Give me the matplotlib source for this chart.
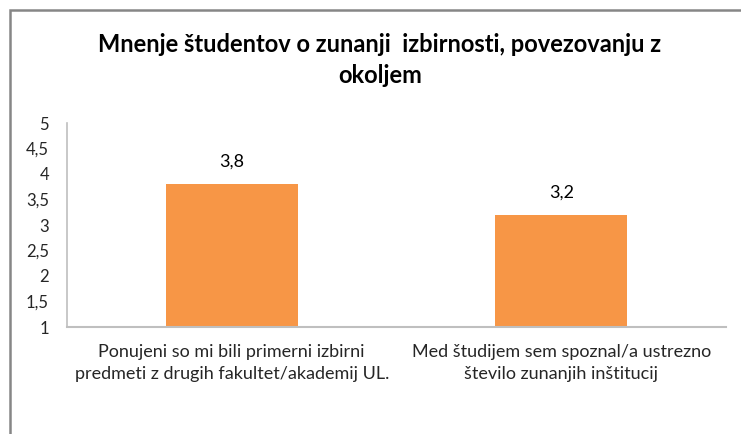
import matplotlib.pyplot as plt
from matplotlib.patches import Rectangle

# Podatki
kategorije = ["Ponujeni so mi bili primerni izbirni\npredmeti z drugih fakultet/akademij UL.",
              "Med študijem sem spoznal/a ustrezno\nštevilo zunanjih inštitucij"]
vrednosti = [3.8, 3.2]
oznake_y = ["1", "1,5", "2", "2,5", "3", "3,5", "4", "4,5", "5"]
naslov = "Mnenje študentov o zunanji  izbirnosti, povezovanju z\nokoljem"

plt.rcParams["font.family"] = ["Lato", "DejaVu Sans"]

fig = plt.figure(figsize=(7.41, 4.34), dpi=100)
ax = fig.add_axes([67 / 741, 1 - 327 / 434, (726 - 67) / 741, (327 - 123) / 434])

x = range(len(vrednosti))
barre = ax.bar(x, [v - 1 for v in vrednosti], bottom=1, width=0.4, color="#F79646")
for b, v in zip(barre, vrednosti):
    ax.text(b.get_x() + b.get_width() / 2, v + 0.28, f"{v:.1f}".replace(".", ","),
            ha="center", va="bottom", fontsize=13, color="#000000")

ax.set_xlim(-0.5, 1.5)
ax.set_ylim(1, 5)
ax.set_yticks([1 + 0.5 * i for i in range(len(oznake_y))])
ax.set_yticklabels(oznake_y)
ax.set_xticks(list(x))
ax.set_xticklabels(kategorije, fontsize=13, color="#262626", linespacing=1.45)
ax.tick_params(axis="y", length=0, labelsize=12, labelcolor="#262626", pad=13)
ax.tick_params(axis="x", length=0, pad=12)

for s in ["top", "right"]:
    ax.spines[s].set_visible(False)
ax.spines["left"].set_color("#BFBFBF")
ax.spines["bottom"].set_color("#BFBFBF")
ax.spines["left"].set_linewidth(1.2)
ax.spines["bottom"].set_linewidth(1.5)

fig.text(380 / 741, 1 - 60 / 434, naslov, ha="center", va="center", fontsize=17,
         fontweight="bold", linespacing=1.4)

# Okvir grafa (odrezan desno in spodaj)
fig.patches.append(Rectangle((10 / 741, -0.1), 1.2, 1 - 10 / 434 + 0.1, transform=fig.transFigure,
                             fill=False, edgecolor="#868686", linewidth=1.8))

fig.savefig("out.png", dpi=100)
